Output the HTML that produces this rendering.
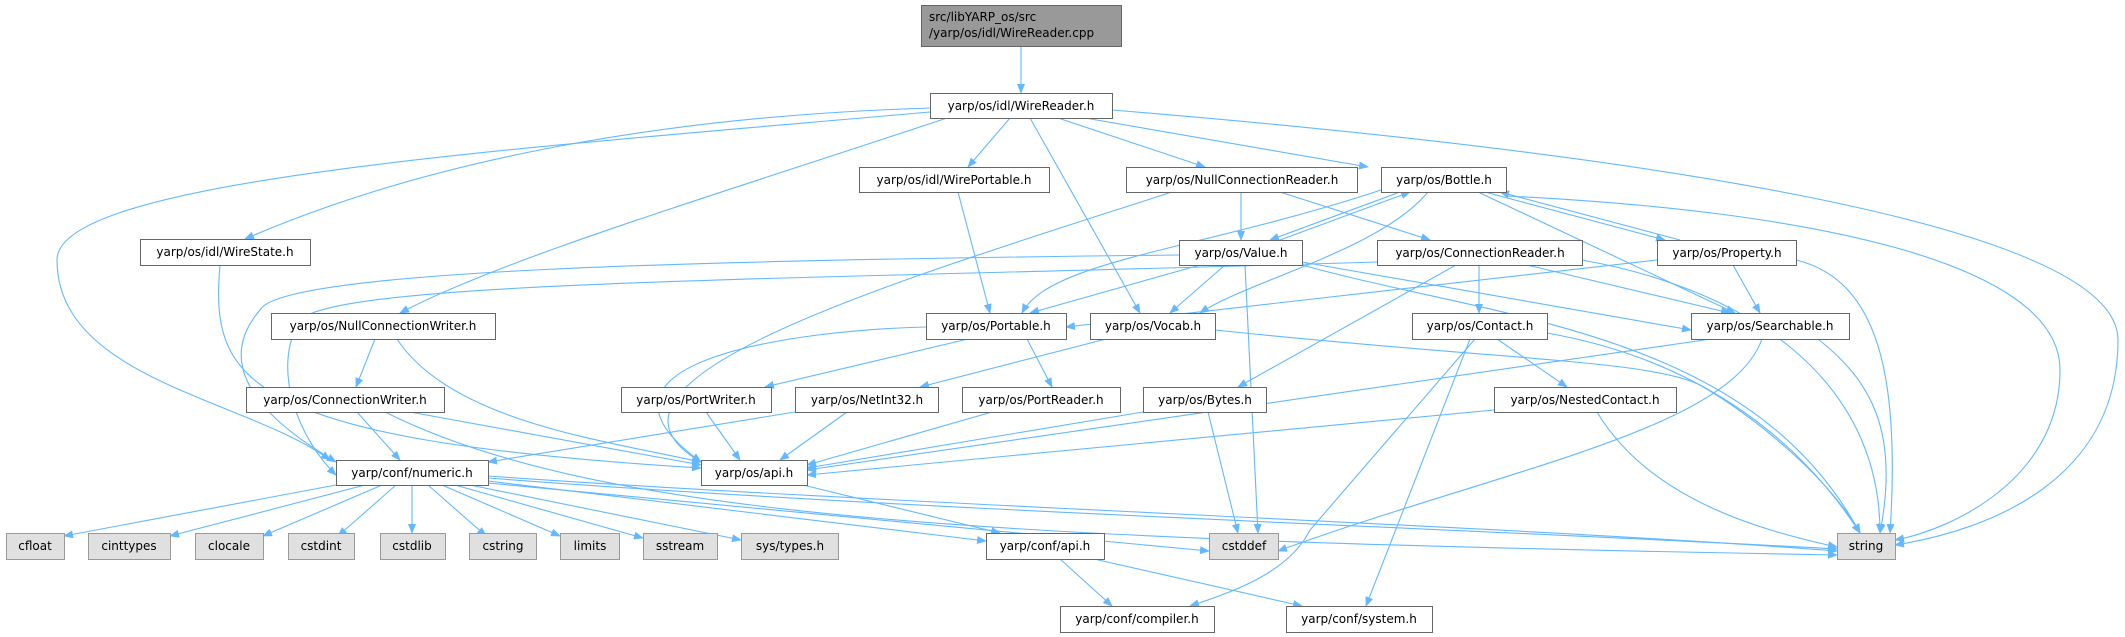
<!DOCTYPE html>
<html><head><meta charset="utf-8"><style>
html,body{margin:0;padding:0;background:#fff;}
svg{display:block;}
text{font-family:"DejaVu Sans","Liberation Sans",sans-serif;font-size:12px;fill:#000;}
.n{fill:#fff;stroke:#666;stroke-width:1;}
.g{fill:#e0e0e0;stroke:#999;stroke-width:1;}
.s{fill:#999;stroke:#666;stroke-width:1;}
path{fill:none;stroke:#63b8ff;stroke-width:1.1;}
</style></head><body>
<svg width="2125" height="637" viewBox="0 0 2125 637" xmlns="http://www.w3.org/2000/svg">
<defs><marker id="a" markerWidth="10" markerHeight="8" refX="9" refY="4" orient="auto" markerUnits="userSpaceOnUse"><polygon points="0,0 10,4 0,8" fill="#63b8ff"/></marker></defs>
<g marker-end="url(#a)">
<path d="M1021,46 L1021,93"/>
<path d="M930,108 C700,115 450,150 245,239"/>
<path d="M930,112 C500,150 57,180 57,260 C57,380 250,400 330,460"/>
<path d="M947,118 C700,200 500,260 400,313"/>
<path d="M1010,118 L968,167"/>
<path d="M1030,118 L1140,313"/>
<path d="M1058,118 L1205,167"/>
<path d="M1085,118 L1368,167"/>
<path d="M1112,110 C1600,150 2118,220 2118,340 C2118,480 1990,530 1895,545"/>
<path d="M958,192 L990,313"/>
<path d="M220,265 C210,380 240,440 701,468"/>
<path d="M375,339 L356,387"/>
<path d="M397,339 C450,420 600,440 701,462"/>
<path d="M357,412 L400,460"/>
<path d="M410,412 L701,465"/>
<path d="M385,412 C600,520 1000,540 1837,555"/>
<path d="M1172,192 C900,280 560,380 701,462"/>
<path d="M1241,192 L1241,240"/>
<path d="M1280,192 L1430,240"/>
<path d="M1381,190 C1200,250 1050,260 1022,313"/>
<path d="M1400,192 L1270,240"/>
<path d="M1280,240 L1410,192"/>
<path d="M1428,192 C1380,250 1250,280 1200,313"/>
<path d="M1478,192 L1735,313"/>
<path d="M1485,192 L1665,240"/>
<path d="M1680,240 L1500,192"/>
<path d="M1506,196 C1800,210 2060,260 2060,370 C2060,480 1950,530 1895,540"/>
<path d="M1179,255 C700,260 280,270 260,310 C200,380 300,440 336,462"/>
<path d="M1200,265 L1030,313"/>
<path d="M1225,265 L1170,313"/>
<path d="M1245,265 L1258,533"/>
<path d="M1302,262 L1691,330"/>
<path d="M1302,265 C1500,320 1750,330 1860,533"/>
<path d="M1377,262 C800,280 340,280 300,320 C270,370 300,440 336,475"/>
<path d="M1479,265 L1479,313"/>
<path d="M1456,265 L1238,387"/>
<path d="M1527,265 L1730,313"/>
<path d="M1582,260 C1750,290 1880,380 1880,533"/>
<path d="M1657,260 L1066,327"/>
<path d="M1733,265 L1760,313"/>
<path d="M1796,260 C1880,280 1900,380 1890,533"/>
<path d="M926,327 C800,330 560,360 701,462"/>
<path d="M968,339 L765,387"/>
<path d="M1027,339 L1052,387"/>
<path d="M1106,339 L920,387"/>
<path d="M1215,330 C1500,360 1650,360 1700,385 C1760,420 1830,480 1860,533"/>
<path d="M706,412 L740,460"/>
<path d="M795,412 L488,462"/>
<path d="M847,412 L780,460"/>
<path d="M992,412 L807,465"/>
<path d="M1143,412 L807,468"/>
<path d="M1208,412 L1238,533"/>
<path d="M1711,339 L807,470"/>
<path d="M1762,339 C1730,430 1500,470 1278,551"/>
<path d="M1818,339 C1870,380 1900,430 1880,533"/>
<path d="M1497,339 L1567,387"/>
<path d="M1475,339 L1310,530 C1290,570 1240,590 1190,606"/>
<path d="M1470,339 L1366,606"/>
<path d="M1547,333 C1700,360 1800,440 1860,533"/>
<path d="M1494,410 L807,475"/>
<path d="M1597,412 C1650,500 1760,530 1837,547"/>
<path d="M336,485 L64,536"/>
<path d="M365,485 L170,536"/>
<path d="M382,485 L263,536"/>
<path d="M396,485 L338,536"/>
<path d="M412,485 L412,533"/>
<path d="M428,485 L486,536"/>
<path d="M442,485 L560,536"/>
<path d="M455,485 L643,538"/>
<path d="M470,485 L741,540"/>
<path d="M488,481 L986,541"/>
<path d="M488,483 L1209,551"/>
<path d="M488,478 C900,510 1500,530 1837,549"/>
<path d="M488,476 C900,505 1500,525 1837,551"/>
<path d="M803,485 L1000,533"/>
<path d="M1060,559 L1112,606"/>
<path d="M1094,559 L1302,606"/>
</g>
<rect class="s" x="921.5" y="5.5" width="200" height="41"/>
<text x="929" y="21">src/libYARP_os/src</text>
<text x="929" y="37">/yarp/os/idl/WireReader.cpp</text>
<g text-anchor="middle">
<rect class="n" x="930.5" y="93.5" width="182" height="25"/><text x="1021" y="110">yarp/os/idl/WireReader.h</text>
<rect class="n" x="859.5" y="167.5" width="190" height="25"/><text x="954" y="184">yarp/os/idl/WirePortable.h</text>
<rect class="n" x="140.5" y="239.5" width="170" height="26"/><text x="225" y="256">yarp/os/idl/WireState.h</text>
<rect class="n" x="271.5" y="313.5" width="224" height="26"/><text x="383" y="330">yarp/os/NullConnectionWriter.h</text>
<rect class="n" x="926.5" y="313.5" width="140" height="26"/><text x="996" y="330">yarp/os/Portable.h</text>
<rect class="n" x="1126.5" y="167.5" width="231" height="25"/><text x="1242" y="184">yarp/os/NullConnectionReader.h</text>
<rect class="n" x="1381.5" y="167.5" width="125" height="25"/><text x="1444" y="184">yarp/os/Bottle.h</text>
<rect class="n" x="1179.5" y="240.5" width="123" height="25"/><text x="1241" y="257">yarp/os/Value.h</text>
<rect class="n" x="1377.5" y="240.5" width="205" height="25"/><text x="1480" y="257">yarp/os/ConnectionReader.h</text>
<rect class="n" x="1657.5" y="240.5" width="139" height="25"/><text x="1727" y="257">yarp/os/Property.h</text>
<rect class="n" x="1090.5" y="313.5" width="125" height="26"/><text x="1153" y="330">yarp/os/Vocab.h</text>
<rect class="n" x="1412.5" y="313.5" width="135" height="26"/><text x="1480" y="330">yarp/os/Contact.h</text>
<rect class="n" x="1691.5" y="313.5" width="158" height="26"/><text x="1770" y="330">yarp/os/Searchable.h</text>
<rect class="n" x="246.5" y="387.5" width="198" height="25"/><text x="345" y="404">yarp/os/ConnectionWriter.h</text>
<rect class="n" x="621.5" y="387.5" width="150" height="25"/><text x="696" y="404">yarp/os/PortWriter.h</text>
<rect class="n" x="795.5" y="387.5" width="143" height="25"/><text x="867" y="404">yarp/os/NetInt32.h</text>
<rect class="n" x="962.5" y="387.5" width="158" height="25"/><text x="1041" y="404">yarp/os/PortReader.h</text>
<rect class="n" x="1143.5" y="387.5" width="123" height="25"/><text x="1205" y="404">yarp/os/Bytes.h</text>
<rect class="n" x="1494.5" y="387.5" width="182" height="25"/><text x="1585" y="404">yarp/os/NestedContact.h</text>
<rect class="n" x="336.5" y="460.5" width="152" height="25"/><text x="412" y="477">yarp/conf/numeric.h</text>
<rect class="n" x="701.5" y="460.5" width="106" height="25"/><text x="754" y="477">yarp/os/api.h</text>
<rect class="n" x="986.5" y="533.5" width="118" height="26"/><text x="1045" y="550">yarp/conf/api.h</text>
<rect class="n" x="1060.5" y="606.5" width="154" height="26"/><text x="1137" y="623">yarp/conf/compiler.h</text>
<rect class="n" x="1286.5" y="606.5" width="146" height="26"/><text x="1359" y="623">yarp/conf/system.h</text>
<rect class="g" x="6.5" y="533.5" width="58" height="26"/><text x="35" y="550">cfloat</text>
<rect class="g" x="88.5" y="533.5" width="82" height="26"/><text x="129" y="550">cinttypes</text>
<rect class="g" x="195.5" y="533.5" width="68" height="26"/><text x="229" y="550">clocale</text>
<rect class="g" x="288.5" y="533.5" width="66" height="26"/><text x="321" y="550">cstdint</text>
<rect class="g" x="380.5" y="533.5" width="65" height="26"/><text x="412" y="550">cstdlib</text>
<rect class="g" x="469.5" y="533.5" width="67" height="26"/><text x="503" y="550">cstring</text>
<rect class="g" x="560.5" y="533.5" width="59" height="26"/><text x="590" y="550">limits</text>
<rect class="g" x="643.5" y="533.5" width="74" height="26"/><text x="680" y="550">sstream</text>
<rect class="g" x="741.5" y="533.5" width="97" height="26"/><text x="790" y="550">sys/types.h</text>
<rect class="g" x="1209.5" y="533.5" width="69" height="26"/><text x="1244" y="550">cstddef</text>
<rect class="g" x="1837.5" y="533.5" width="58" height="26"/><text x="1866" y="550">string</text>
</g>
</svg>
</body></html>
